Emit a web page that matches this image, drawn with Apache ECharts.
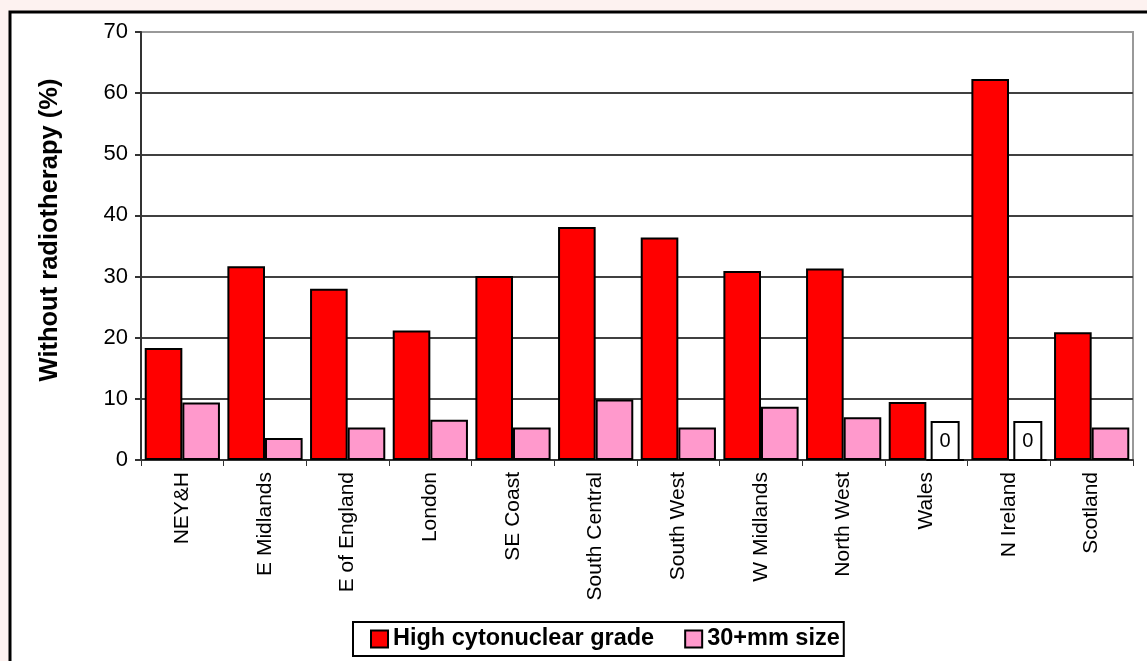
<!DOCTYPE html>
<html>
<head>
<meta charset="utf-8">
<script src="https://cdn.jsdelivr.net/npm/echarts@6/dist/echarts.min.js"></script>
<style>
html,body{margin:0;padding:0;background:#fdf2f0;}
#chart{width:1147px;height:661px;}
</style>
</head>
<body>
<div id="chart"></div>
<script>
var categories = ['NEY&H','E Midlands','E of England','London','SE Coast','South Central','South West','W Midlands','North West','Wales','N Ireland','Scotland'];
var highGrade = [18.3, 31.7, 28.0, 21.2, 30.1, 38.1, 36.4, 30.9, 31.3, 9.5, 62.3, 20.9];
var size30 = [9.4, 3.6, 5.3, 6.6, 5.3, 9.9, 5.3, 8.7, 7.0, 0, 0, 5.3];
var yTicks = {min: 0, max: 70, interval: 10};
var seriesNames = ['High cytonuclear grade', '30+mm size'];
var yTitle = 'Without radiotherapy (%)';

var FONT = '"Liberation Sans", Arial, sans-serif';
var zeroLabel = {
  show: true, position: 'top', distance: 0,
  formatter: '{c}',
  backgroundColor: '#ffffff', borderColor: '#000000', borderWidth: 2,
  width: 25, lineHeight: 36, padding: 0,
  fontSize: 20, color: '#000', fontFamily: FONT
};
var sizeData = size30.map(function (v) {
  return v === 0 ? {value: v, label: zeroLabel} : {value: v};
});

var chart = echarts.init(document.getElementById('chart'));
chart.setOption({
  animation: false,
  backgroundColor: '#fdf2f0',
  graphic: [
    {type: 'rect', z: -100, silent: true,
     shape: {x: 10, y: 12, width: 1200, height: 700},
     style: {fill: '#ffffff', stroke: '#000000', lineWidth: 3}},
    {type: 'text', x: 50, y: 230, rotation: Math.PI / 2,
     style: {text: yTitle, font: 'bold 25.5px ' + FONT, fill: '#000',
             align: 'center', verticalAlign: 'middle',
             textAlign: 'center', textVerticalAlign: 'middle'}}
  ],
  grid: {left: 141, right: 14, top: 32, bottom: 201, show: true,
         borderColor: '#999999', borderWidth: 2, backgroundColor: 'transparent'},
  legend: {
    left: 353, top: 622, orient: 'horizontal',
    itemWidth: 17, itemHeight: 17, itemGap: 30,
    padding: [5, 4, 5, 17],
    borderColor: '#000', borderWidth: 2, backgroundColor: '#fff',
    icon: 'rect',
    textStyle: {fontSize: 23.5, fontWeight: 'bold', color: '#000', fontFamily: FONT},
    data: seriesNames
  },
  xAxis: {
    type: 'category', data: categories,
    axisLine: {lineStyle: {color: '#333', width: 2}},
    axisTick: {show: true, length: 6, lineStyle: {color: '#333', width: 1}},
    axisLabel: {rotate: 90, margin: 12, fontSize: 21, color: '#000', fontFamily: FONT, interval: 0}
  },
  yAxis: {
    type: 'value', min: yTicks.min, max: yTicks.max, interval: yTicks.interval,
    axisLine: {show: true, lineStyle: {color: '#333', width: 2}},
    axisTick: {show: true, length: 6, lineStyle: {color: '#333', width: 2}},
    axisLabel: {margin: 13, fontSize: 22, color: '#000', fontFamily: FONT},
    splitLine: {show: true, lineStyle: {width: 2,
      color: ['#404040','#404040','#404040','#404040','#404040','#404040','#404040','#999999']}}
  },
  series: [
    {name: seriesNames[0], type: 'bar', data: highGrade,
     barGap: '0%', barCategoryGap: '9%',
     itemStyle: {color: '#ff0000', borderColor: '#000', borderWidth: 2}},
    {name: seriesNames[1], type: 'bar', data: sizeData,
     itemStyle: {color: '#ff99cc', borderColor: '#000', borderWidth: 2}}
  ]
});
</script>
</body>
</html>
